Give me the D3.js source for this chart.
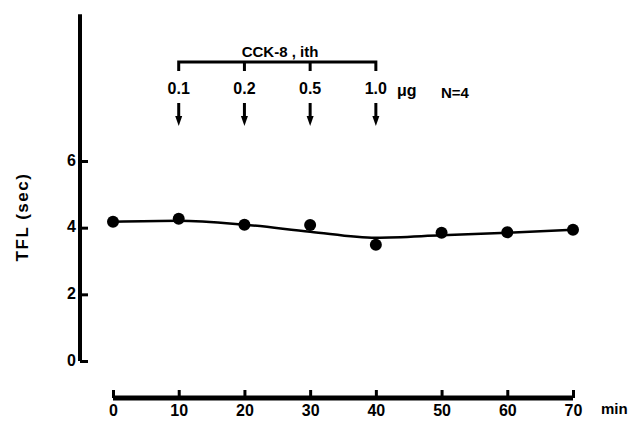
<!DOCTYPE html>
<html>
<head>
<meta charset="utf-8">
<script src="https://cdn.jsdelivr.net/npm/d3@7"></script>
<style>
  body { margin: 0; background: #fff; }
  text { font-family: "Liberation Sans", Arial, sans-serif; font-weight: bold; fill: #000; }
</style>
</head>
<body>
<div id="chart"></div>
<script>
// data
const times = [0, 10, 20, 30, 40, 50, 60, 70];
const tfl = [4.18, 4.27, 4.09, 4.08, 3.49, 3.85, 3.86, 3.94];
const fitted = [4.18, 4.21, 4.09, 3.88, 3.70, 3.77, 3.85, 3.94];
const doseTimes = [10, 20, 30, 40];
const doseLabels = ["0.1", "0.2", "0.5", "1.0"];
const yTicks = [0, 2, 4, 6];
const xTicks = [0, 10, 20, 30, 40, 50, 60, 70];

const W = 629, H = 422;

const svg = d3.select("#chart")
  .append("svg")
  .attr("width", W)
  .attr("height", H);

const x = d3.scaleLinear().domain([0, 70]).range([113, 573]);
const y = d3.scaleLinear().domain([0, 6]).range([361, 161]);

// y axis (ticks point inward, extends well above 6)
const yAxis = svg.append("g")
  .attr("transform", "translate(80,0)")
  .call(d3.axisLeft(y).tickValues(yTicks).tickFormat(d3.format("d"))
    .tickSize(-8).tickSizeOuter(0).tickPadding(4));
yAxis.select(".domain").remove();
yAxis.selectAll(".tick line").attr("stroke", "#000").attr("stroke-width", 3);
yAxis.selectAll(".tick text").style("font-size", "16px").attr("dy", "0.25em");
yAxis.append("line")
  .attr("x1", 0).attr("x2", 0)
  .attr("y1", y(0)).attr("y2", y(10.4))
  .attr("stroke", "#000").attr("stroke-width", 4);

svg.append("text")
  .attr("transform", `translate(28,217) rotate(-90)`)
  .attr("text-anchor", "middle")
  .style("font-size", "17px")
  .style("letter-spacing", "1.5px")
  .text("TFL (sec)");

// x axis, detached below
const xAxis = svg.append("g")
  .attr("transform", "translate(0,398)")
  .call(d3.axisBottom(x).tickValues(xTicks).tickSize(-8).tickSizeOuter(0).tickPadding(5));
xAxis.select(".domain").remove();
xAxis.selectAll(".tick line").attr("stroke", "#000").attr("stroke-width", 3);
xAxis.selectAll(".tick text").style("font-size", "16px").attr("dy", "0.8em");
xAxis.append("line")
  .attr("x1", x(0)).attr("x2", x(70))
  .attr("y1", 0).attr("y2", 0)
  .attr("stroke", "#000").attr("stroke-width", 5);
svg.append("text")
  .attr("x", x(70) + 28).attr("y", 414)
  .style("font-size", "15px")
  .text("min");

// fitted curve
const line = d3.line()
  .x((d, i) => x(times[i]))
  .y(d => y(d))
  .curve(d3.curveMonotoneX);

svg.append("path")
  .datum(fitted)
  .attr("fill", "none")
  .attr("stroke", "#000")
  .attr("stroke-width", 2.5)
  .attr("d", line);

svg.selectAll("circle.pt")
  .data(tfl)
  .enter()
  .append("circle")
  .attr("class", "pt")
  .attr("cx", (d, i) => x(times[i]))
  .attr("cy", d => y(d))
  .attr("r", 6)
  .attr("fill", "#000");

// CCK-8 dose bracket
const bracketY = 62;
svg.append("path")
  .attr("fill", "none")
  .attr("stroke", "#000")
  .attr("stroke-width", 3)
  .attr("d", `M${x(doseTimes[0])},${bracketY + 9}V${bracketY}H${x(doseTimes[3])}V${bracketY + 9}`);
doseTimes.slice(1, 3).forEach(t => {
  svg.append("line")
    .attr("x1", x(t)).attr("x2", x(t))
    .attr("y1", bracketY).attr("y2", bracketY + 9)
    .attr("stroke", "#000").attr("stroke-width", 3);
});
svg.append("text")
  .attr("x", 280).attr("y", bracketY - 5)
  .attr("text-anchor", "middle")
  .style("font-size", "15px")
  .text("CCK-8 , ith");

svg.selectAll("text.dose")
  .data(doseLabels)
  .enter()
  .append("text")
  .attr("class", "dose")
  .attr("x", (d, i) => x(doseTimes[i]))
  .attr("y", 94)
  .attr("text-anchor", "middle")
  .style("font-size", "16px")
  .text(d => d);

svg.append("text")
  .attr("x", 397).attr("y", 96)
  .style("font-size", "16px")
  .text("μg");
svg.append("text")
  .attr("x", 441).attr("y", 98)
  .style("font-size", "15px")
  .text("N=4");

// arrows
doseTimes.forEach(t => {
  const cx = x(t);
  svg.append("line")
    .attr("x1", cx).attr("x2", cx)
    .attr("y1", 103).attr("y2", 118)
    .attr("stroke", "#000").attr("stroke-width", 3);
  svg.append("path")
    .attr("d", `M${cx - 3.5},116L${cx + 3.5},116L${cx},126Z`)
    .attr("fill", "#000");
});
</script>
</body>
</html>
